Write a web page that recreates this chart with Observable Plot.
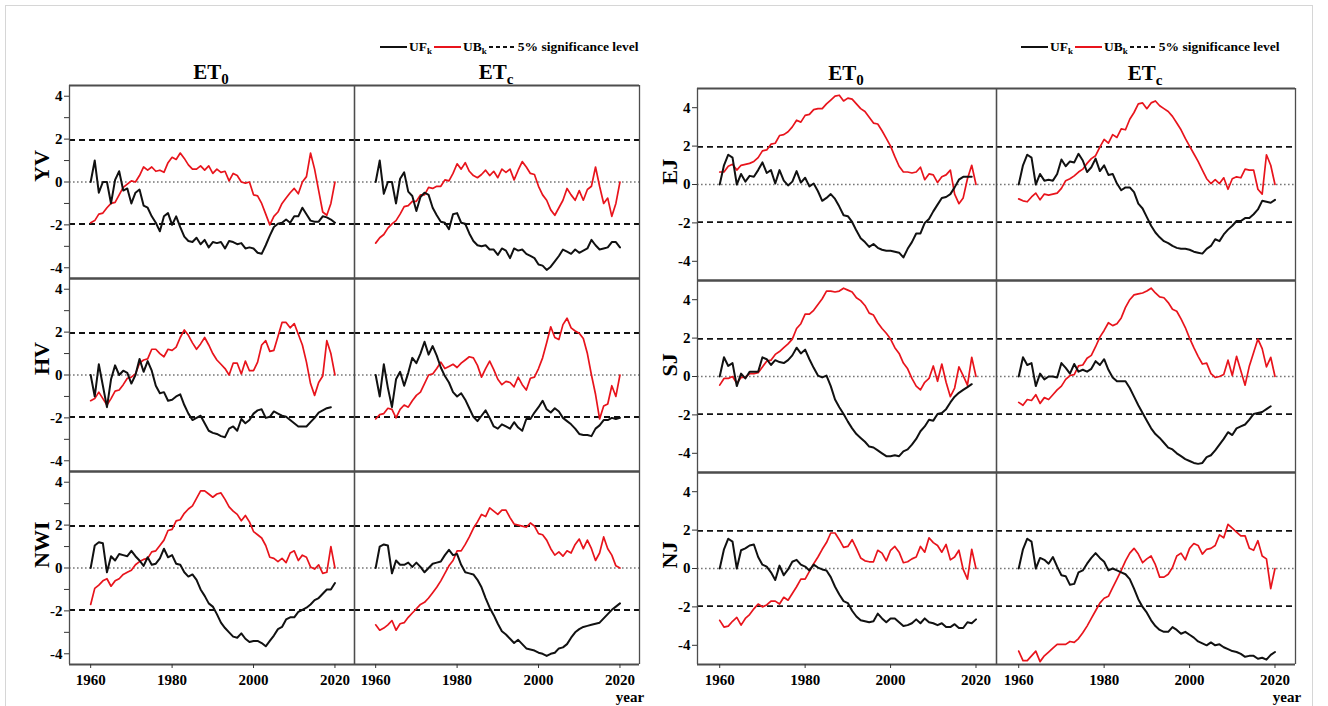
<!DOCTYPE html>
<html><head><meta charset="utf-8">
<script src="https://cdn.jsdelivr.net/npm/d3@7"></script>
<script src="https://cdn.jsdelivr.net/npm/@observablehq/plot@0.6"></script>
<style>
html,body{margin:0;padding:0;background:#fff;}
#root{position:relative;width:1328px;height:706px;overflow:hidden;font-family:"Liberation Serif","Times New Roman",serif;font-weight:bold;color:#000;}
.border{position:absolute;left:5px;top:5px;width:1306px;height:720px;border:1px solid #d6d6d6;}
.title{position:absolute;font-size:21px;line-height:1;transform:translateX(-50%);white-space:nowrap;}
.title sub{font-size:15px;vertical-align:-5px;line-height:0;}
.legend{position:absolute;display:flex;align-items:center;font-size:13.5px;line-height:1;white-space:nowrap;}
.legend sub{font-size:9px;vertical-align:-3px;line-height:0;}
.legend svg{display:block;}
.year{position:absolute;font-size:15px;line-height:1;transform:translateX(-50%);}
</style></head><body><div id="root"><div class="border"></div></div>
<script>
// ---------------- data ----------------
const years = d3.range(1960, 2021);
const columns = ["ET0", "ETc"];
const rowsLeft = ["YV", "HV", "NWI"];
const rowsRight = ["EJ", "SJ", "NJ"];
const seriesNames = ["UF", "UB"];
const sigLevel = 1.96;
const yTicksLeft = [-4, -3, -2, -1, 0, 1, 2, 3, 4];
const yTicksRight = [-4, -2, 0, 2, 4];
const xTicks = [1960, 1980, 2000, 2020];

const YV_ET0_UF = [0,1.0,-0.5,0.0,0.0,-1.0,0.1,0.5,-0.4,-0.3, -1.0,-0.5,-0.35,-1.1,-1.2,-1.6,-1.9,-2.3,-1.6,-1.45, -2.0,-1.6,-2.1,-2.55,-2.75,-2.8,-2.6,-2.9,-2.7,-3.05, -2.8,-2.85,-2.8,-3.1,-2.75,-2.8,-2.9,-2.85,-3.1,-3.05, -3.1,-3.3,-3.35,-2.95,-2.5,-2.1,-1.95,-1.9,-1.75,-1.9, -1.6,-1.6,-1.2,-1.5,-1.8,-1.85,-1.85,-1.6,-1.65,-1.75,-1.9];
const YV_ET0_UB = [-1.9,-1.8,-1.5,-1.45,-1.2,-1.0,-0.95,-0.6,-0.25,-0.1, 0.05,0.0,0.3,0.7,0.55,0.7,0.5,0.55,0.45,0.9, 1.15,1.05,1.35,1.1,0.8,0.6,0.6,0.75,0.55,0.75, 0.4,0.6,0.45,0.5,0.05,0.4,0.3,0.0,-0.05,0.0, -0.6,-0.65,-1.0,-1.5,-2.0,-1.6,-1.4,-1.0,-0.75,-0.5, -0.3,-0.55,0.0,0.25,1.35,0.6,-0.4,-1.4,-1.55,-1.0,0.0];
const YV_ETc_UF = [0,1.0,-0.55,0.0,0.0,-1.0,0.15,0.45,-0.45,-0.65, -1.35,-0.7,-0.5,-0.6,-1.2,-1.55,-1.85,-1.9,-2.2,-1.5, -1.45,-1.9,-1.95,-2.4,-2.75,-2.95,-3.0,-2.95,-3.15,-3.15, -3.4,-3.1,-3.2,-3.55,-3.1,-3.2,-3.15,-3.35,-3.45,-3.55, -3.85,-3.9,-4.1,-3.95,-3.7,-3.45,-3.15,-3.25,-3.35,-3.15, -3.3,-3.2,-3.1,-2.7,-2.95,-3.15,-3.1,-3.05,-2.8,-2.8,-3.05];
const YV_ETc_UB = [-2.85,-2.6,-2.45,-2.15,-1.95,-1.8,-1.5,-1.15,-1.1,-0.9, -0.9,-0.6,-0.6,-0.25,-0.3,-0.2,-0.2,0.1,0.05,0.4, 0.85,0.6,0.9,0.5,0.3,0.2,0.35,0.55,0.3,0.5, 0.2,0.6,0.45,0.6,0.1,0.55,0.95,0.7,0.4,0.35, -0.2,-0.6,-0.85,-1.3,-1.55,-1.2,-0.85,-0.3,-0.6,-0.85, -0.4,-0.85,-0.35,-0.2,0.7,-0.2,-1.0,-0.75,-1.6,-1.0,0.0];

const HV_ET0_UF = [0,-1.0,0.5,-0.5,-1.5,-0.2,0.45,0.0,0.2,0.1, -0.4,0.0,0.75,0.15,0.65,0.2,-0.5,-0.85,-0.8,-1.2, -1.15,-1.0,-0.9,-1.4,-1.8,-2.1,-2.0,-1.9,-2.25,-2.6, -2.7,-2.75,-2.85,-2.9,-2.5,-2.4,-2.6,-2.05,-2.25,-2.1, -1.8,-1.65,-1.6,-2.0,-1.95,-1.7,-1.8,-1.9,-1.95,-2.1, -2.25,-2.4,-2.4,-2.4,-2.2,-2.0,-1.75,-1.65,-1.55,-1.5];
const HV_ET0_UB = [-1.2,-1.1,-0.8,-1.1,-1.4,-1.1,-0.75,-0.7,-0.45,-0.15, -0.1,0.05,0.55,0.7,0.75,1.2,1.2,1.0,0.85,1.2, 1.15,1.3,1.75,2.1,1.85,1.5,1.2,1.45,1.75,1.4, 1.0,0.7,0.5,0.3,0.0,0.55,0.55,0.05,0.65,0.2, 0.2,0.6,1.4,1.6,1.1,1.15,1.8,2.45,2.45,2.2, 2.4,1.9,1.4,0.6,-0.4,-0.95,-0.35,-0.05,1.6,1.0,0.0];
const HV_ETc_UF = [0,-1.0,0.5,-0.6,-1.5,-0.2,0.15,-0.5,0.1,0.8, 0.55,1.0,1.55,0.95,1.35,0.9,0.35,-0.05,-0.35,-0.8, -1.0,-0.85,-1.15,-1.55,-1.95,-2.15,-1.9,-1.65,-2.0,-2.4, -2.5,-2.3,-2.4,-2.5,-2.2,-2.45,-2.6,-2.05,-2.05,-1.75, -1.5,-1.2,-1.6,-1.75,-1.55,-1.7,-2.0,-2.15,-2.3,-2.5, -2.75,-2.8,-2.8,-2.85,-2.5,-2.35,-2.1,-2.1,-2.0,-2.05,-2.0];
const HV_ETc_UB = [-2.05,-1.85,-1.8,-1.55,-1.6,-2.0,-1.6,-1.4,-1.5,-1.2, -0.95,-0.8,-0.4,0.0,0.05,0.3,0.6,0.3,0.4,0.5, 0.35,0.55,0.7,0.85,0.8,0.45,-0.1,0.3,0.65,0.25, -0.2,-0.45,-0.3,-0.35,-0.55,-0.1,-0.45,-0.7,-0.15,-0.1, 0.3,0.8,1.5,2.25,1.75,1.65,2.35,2.65,2.2,2.05, 1.95,1.7,1.0,0.0,-0.9,-2.05,-1.45,-1.35,-0.5,-1.0,0.0];

const NWI_ET0_UF = [0,1.05,1.2,1.15,-0.2,0.55,0.35,0.65,0.6,0.55, 0.8,0.55,0.35,0.1,0.5,0.15,0.2,0.45,0.9,0.5, 0.6,0.2,0.15,-0.2,-0.4,-0.3,-0.55,-1.0,-1.3,-1.65, -1.8,-2.15,-2.55,-2.8,-3.0,-3.2,-3.25,-3.05,-3.3,-3.45, -3.4,-3.4,-3.5,-3.65,-3.4,-3.15,-2.85,-2.75,-2.4,-2.3, -2.3,-2.05,-1.95,-1.85,-1.7,-1.5,-1.4,-1.2,-1.0,-1.0,-0.7];
const NWI_ET0_UB = [-1.7,-0.95,-0.8,-0.6,-0.5,-0.85,-0.6,-0.5,-0.3,-0.2, -0.1,0.15,0.3,0.4,0.45,0.75,0.8,1.05,1.3,1.75, 1.8,2.2,2.25,2.55,2.75,2.9,3.25,3.6,3.6,3.45, 3.3,3.45,3.5,3.2,2.85,2.65,2.5,2.2,2.45,2.15, 1.7,1.55,1.4,1.05,0.5,0.45,0.3,0.45,0.25,0.7, 0.8,0.35,0.6,0.5,0.05,-0.05,0.15,-0.25,-0.2,1.0,0.0];
const NWI_ETc_UF = [0,1.0,1.1,1.05,-0.25,0.35,0.15,0.15,0.25,0.05, 0.25,0.05,-0.2,0.0,0.2,0.25,0.3,0.6,0.85,0.6, 0.65,0.15,-0.2,-0.25,-0.3,-0.55,-0.9,-1.4,-1.85,-2.2, -2.6,-2.95,-3.1,-3.3,-3.5,-3.35,-3.55,-3.75,-3.8,-3.85, -3.95,-4.0,-4.1,-4.0,-3.95,-3.75,-3.7,-3.55,-3.25,-3.0, -2.85,-2.75,-2.7,-2.65,-2.6,-2.55,-2.35,-2.15,-1.95,-1.8,-1.65];
const NWI_ETc_UB = [-2.65,-2.9,-2.8,-2.65,-2.45,-2.9,-2.6,-2.55,-2.3,-2.1, -1.9,-1.7,-1.6,-1.4,-1.15,-0.9,-0.6,-0.25,0.1,0.35, 0.8,0.8,1.1,1.45,1.85,2.15,2.5,2.4,2.8,2.65, 2.5,2.7,2.7,2.35,2.05,2.0,1.95,1.9,2.1,1.95, 1.6,1.55,1.3,0.9,0.6,0.75,0.55,0.8,0.7,1.1, 1.35,0.9,1.3,0.9,0.35,0.7,1.45,0.9,0.6,0.1,0.0];

const EJ_ET0_UF = [0,1.0,1.55,1.4,0.0,0.55,0.15,0.45,0.4,0.75, 1.15,0.6,0.75,0.05,0.75,0.2,-0.05,0.15,0.7,0.1, 0.35,-0.1,0.05,-0.35,-0.85,-0.7,-0.5,-0.75,-1.15,-1.6, -1.65,-1.95,-2.4,-2.8,-3.0,-3.25,-3.1,-3.3,-3.4,-3.45, -3.45,-3.5,-3.55,-3.8,-3.35,-3.0,-2.55,-2.55,-2.0,-1.8, -1.4,-1.05,-0.7,-0.65,-0.5,-0.15,0.25,0.4,0.4,0.4];
const EJ_ET0_UB = [0.65,0.65,0.95,1.05,0.75,1.0,1.05,1.1,1.2,1.4, 1.75,1.8,2.1,2.15,2.55,2.6,2.75,3.0,3.35,3.25, 3.6,3.65,3.9,3.95,3.95,4.2,4.4,4.6,4.65,4.35, 4.5,4.45,4.2,3.95,3.8,3.5,3.2,3.15,2.8,2.4, 2.0,1.45,0.95,0.65,0.65,0.6,0.65,0.9,0.25,0.55, 0.5,0.1,0.4,0.5,0.75,-0.5,-1.0,-0.7,0.3,1.0,0.0];
const EJ_ETc_UF = [0,1.0,1.55,1.4,0.0,0.55,0.2,0.25,0.2,0.55, 1.3,0.95,1.2,1.15,1.6,1.25,0.65,0.9,1.35,0.7, 1.0,0.5,0.55,0.05,-0.3,-0.15,-0.15,-0.4,-1.0,-1.25, -1.7,-2.15,-2.5,-2.75,-2.95,-3.05,-3.2,-3.3,-3.35,-3.35, -3.4,-3.5,-3.55,-3.6,-3.35,-3.2,-2.85,-2.95,-2.6,-2.35, -2.15,-1.9,-1.9,-1.75,-1.75,-1.55,-1.3,-0.85,-0.9,-0.95,-0.8];
const EJ_ETc_UB = [-0.75,-0.85,-0.9,-0.65,-0.45,-0.8,-0.5,-0.55,-0.5,-0.45, -0.2,0.2,0.3,0.45,0.65,0.8,1.1,1.35,1.5,1.95, 2.35,2.15,2.6,2.45,2.9,2.85,3.4,3.75,4.2,4.25, 3.95,4.25,4.35,4.1,3.95,3.8,3.55,3.2,2.85,2.4, 2.0,1.6,1.2,0.75,0.3,0.05,0.25,0.05,0.35,-0.25, 0.3,0.4,0.35,0.8,0.75,0.75,-0.25,-0.5,1.55,1.0,0.0];

const SJ_ET0_UF = [0,1.0,0.55,0.7,-0.5,0.15,-0.1,0.25,0.25,0.25, 1.0,0.9,0.6,0.85,0.75,0.7,0.85,1.1,1.5,1.2, 1.4,0.9,0.45,0.05,-0.05,0.05,-0.5,-1.2,-1.6,-1.95, -2.35,-2.7,-3.0,-3.2,-3.4,-3.65,-3.7,-3.85,-4.0,-4.15, -4.15,-4.1,-4.15,-3.9,-3.8,-3.55,-3.25,-2.85,-2.6,-2.25, -2.3,-1.95,-1.9,-1.7,-1.35,-1.05,-0.85,-0.7,-0.55,-0.4];
const SJ_ET0_UB = [-0.45,-0.1,-0.1,0.0,-0.35,-0.05,-0.05,0.15,0.15,0.2, 0.5,0.8,0.85,1.15,1.3,1.5,1.7,1.95,2.5,2.75, 3.25,3.25,3.45,3.75,4.05,4.45,4.45,4.4,4.45,4.6, 4.5,4.4,4.1,3.95,3.7,3.3,3.2,2.8,2.5,2.25, 1.95,1.5,1.2,0.7,0.4,-0.1,-0.5,-0.7,-0.3,-0.1, 0.55,-0.25,0.65,-0.3,-1.05,-0.6,0.5,0.05,-0.45,1.0,0.0];
const SJ_ETc_UF = [0,1.0,0.6,0.7,-0.5,0.15,-0.15,0.0,0.0,-0.05, 0.7,0.45,0.15,0.65,0.25,0.35,0.25,0.4,0.8,0.6, 0.9,0.35,-0.05,-0.25,-0.25,-0.25,-0.6,-1.05,-1.5,-1.9, -2.3,-2.7,-3.0,-3.2,-3.45,-3.7,-3.8,-4.0,-4.15,-4.3, -4.4,-4.5,-4.55,-4.5,-4.2,-4.1,-3.85,-3.55,-3.25,-2.9, -3.05,-2.7,-2.6,-2.5,-2.25,-1.95,-1.9,-1.85,-1.7,-1.55];
const SJ_ETc_UB = [-1.35,-1.5,-1.2,-1.25,-0.95,-1.4,-1.1,-1.2,-0.95,-0.7, -0.5,-0.15,0.05,0.1,0.55,0.6,0.95,1.1,1.55,2.05, 2.4,2.8,2.65,2.75,3.05,3.6,4.0,4.25,4.3,4.35, 4.45,4.6,4.35,4.15,4.1,3.85,3.5,3.4,3.0,2.55, 2.0,1.5,1.05,0.65,0.7,0.15,-0.05,0.0,0.1,0.85, 0.05,1.05,0.3,-0.45,0.55,1.25,1.95,1.45,0.5,1.0,0.0];

const NJ_ET0_UF = [0,1.0,1.55,1.4,0.0,0.95,1.05,1.2,1.25,0.6, 0.2,0.1,-0.2,-0.6,0.15,-0.35,-0.05,0.35,0.45,0.2, 0.1,-0.1,0.2,0.05,-0.05,-0.1,-0.45,-0.95,-1.35,-1.7, -1.8,-2.2,-2.5,-2.7,-2.75,-2.8,-2.75,-2.35,-2.6,-2.8, -2.6,-2.6,-2.8,-3.0,-2.95,-2.85,-2.65,-2.85,-2.6,-2.8, -2.85,-2.95,-2.85,-3.05,-3.05,-2.9,-3.1,-3.1,-2.8,-2.85,-2.65];
const NJ_ET0_UB = [-2.7,-3.05,-3.0,-2.75,-2.55,-2.95,-2.6,-2.4,-2.1,-1.85, -2.0,-1.9,-1.7,-1.7,-1.85,-1.5,-1.65,-1.3,-0.95,-0.55, -0.55,-0.15,0.25,0.6,1.0,1.35,1.85,1.85,1.5,1.1, 1.15,1.5,1.05,0.55,0.4,0.35,0.35,0.95,0.8,0.4, 0.95,1.15,0.85,0.3,0.35,0.5,0.6,1.15,0.85,1.6, 1.35,1.2,0.85,1.25,0.45,0.6,0.95,-0.05,-0.55,1.0,0.0];
const NJ_ETc_UF = [0,1.0,1.55,1.4,0.0,0.55,0.45,0.25,0.6,0.1, -0.35,-0.4,-0.85,-0.8,-0.2,-0.1,0.25,0.55,0.8,0.55, 0.35,-0.1,0.0,-0.1,-0.2,-0.3,-0.55,-1.05,-1.6,-2.0, -2.3,-2.7,-3.0,-3.2,-3.3,-3.3,-3.05,-3.2,-3.4,-3.3, -3.45,-3.6,-3.8,-3.9,-4.0,-3.85,-4.0,-3.95,-4.1,-4.2, -4.3,-4.35,-4.45,-4.6,-4.55,-4.55,-4.7,-4.65,-4.75,-4.5,-4.35];
const NJ_ETc_UB = [-4.3,-4.8,-4.8,-4.55,-4.3,-4.85,-4.55,-4.35,-4.15,-3.95, -3.95,-3.95,-3.8,-3.85,-3.65,-3.35,-3.0,-2.6,-2.2,-1.8, -1.55,-1.45,-1.0,-0.55,-0.1,0.4,0.8,1.05,0.75,0.3, 0.5,0.65,0.2,-0.45,-0.45,-0.3,0.05,0.65,0.8,0.45, 1.05,1.3,1.2,0.75,1.0,1.05,1.2,1.75,1.6,2.3, 2.1,1.9,1.7,1.7,1.05,0.95,1.45,0.65,0.5,-1.05,0.0];

const panelsLeft = [
  ["YV","ET0",YV_ET0_UF,YV_ET0_UB],["YV","ETc",YV_ETc_UF,YV_ETc_UB],
  ["HV","ET0",HV_ET0_UF,HV_ET0_UB],["HV","ETc",HV_ETc_UF,HV_ETc_UB],
  ["NWI","ET0",NWI_ET0_UF,NWI_ET0_UB],["NWI","ETc",NWI_ETc_UF,NWI_ETc_UB]
];
const panelsRight = [
  ["EJ","ET0",EJ_ET0_UF,EJ_ET0_UB],["EJ","ETc",EJ_ETc_UF,EJ_ETc_UB],
  ["SJ","ET0",SJ_ET0_UF,SJ_ET0_UB],["SJ","ETc",SJ_ETc_UF,SJ_ETc_UB],
  ["NJ","ET0",NJ_ET0_UF,NJ_ET0_UB],["NJ","ETc",NJ_ETc_UF,NJ_ETc_UB]
];

// ---------------- build ----------------
function toRecords(panels) {
  const out = [];
  for (const [row, col, uf, ub] of panels) {
    uf.forEach((v, i) => out.push({row, col, series: "UF", year: years[i], value: v}));
    ub.forEach((v, i) => out.push({row, col, series: "UB", year: years[i], value: v}));
  }
  return out;
}

const XDOM = [1954.8, 2024.8];
const FONT = "'Liberation Serif','Times New Roman',serif";

function block({rows, panels, ydomain, yticks, marginLeft, marginRight, marginTop, marginBottom, width}) {
  const data = toRecords(panels);
  const labels = rows.map(r => ({row: r, col: columns[0]}));
  return Plot.plot({
    width, height: 706,
    marginLeft, marginRight, marginTop, marginBottom,
    style: {fontFamily: FONT, fontWeight: "bold", fontSize: "15px", color: "#000", background: "transparent", overflow: "visible"},
    x: {domain: XDOM, axis: null, label: null},
    y: {domain: ydomain, axis: null, label: null},
    fx: {domain: columns, padding: 0, axis: null, label: null},
    fy: {domain: rows, padding: 0, axis: null, label: null},
    marks: [
      Plot.ruleY([sigLevel, -sigLevel], {stroke: "#111", strokeWidth: 1.9, strokeDasharray: "6,4"}),
      Plot.ruleY([0], {stroke: "#777", strokeWidth: 1.3, strokeDasharray: "1.6,2.4"}),
      Plot.line(data.filter(d => d.series === "UB"), {x: "year", y: "value", fx: "col", fy: "row", stroke: "#e8141c", strokeWidth: 1.7}),
      Plot.line(data.filter(d => d.series === "UF"), {x: "year", y: "value", fx: "col", fy: "row", stroke: "#111", strokeWidth: 2}),
      Plot.ruleY(ydomain, {stroke: "#4d4d4d", strokeWidth: 2}),
      Plot.ruleX(XDOM, {stroke: "#4d4d4d", strokeWidth: 1.3}),
      Plot.axisY({ticks: yticks, anchor: "left", label: null, tickSize: 5, tickPadding: 2, stroke: "#333",
        tickFormat: d => (d % 2 === 0 ? String(d) : ""), fontSize: 15, fontWeight: "bold", fill: "#000"}),
      Plot.axisX({ticks: xTicks, anchor: "bottom", label: null, tickSize: 4, tickPadding: 6, stroke: "#333",
        tickFormat: d => String(d), fontSize: 15, fontWeight: "bold", fill: "#000"}),
      Plot.text(labels, {fx: "col", fy: "row", text: "row", frameAnchor: "left", dx: -28, rotate: -90,
        fontSize: 22, fontWeight: "bold", fill: "#000"})
    ]
  });
}

const root = document.getElementById("root");

function place(node, left, top) {
  node.style.position = "absolute";
  node.style.left = left + "px";
  node.style.top = top + "px";
  root.appendChild(node);
}

const left = block({rows: rowsLeft, panels: panelsLeft, ydomain: [-4.5, 4.5], yticks: yTicksLeft,
  marginLeft: 68, marginRight: 25, marginTop: 84, marginBottom: 41, width: 664});
place(left, 0, 0);
const right = block({rows: rowsRight, panels: panelsRight, ydomain: [-5, 5], yticks: yTicksRight,
  marginLeft: 33, marginRight: 33, marginTop: 87, marginBottom: 41, width: 664});
place(right, 664, 0);

// titles
function title(col, x, y) {
  const d = document.createElement("div");
  d.className = "title";
  d.innerHTML = "ET<sub>" + col.slice(2) + "</sub>";
  d.style.left = x + "px"; d.style.top = y + "px";
  root.appendChild(d);
}
title(columns[0], 211, 62); title(columns[1], 496, 62);
title(columns[0], 846, 63); title(columns[1], 1145, 63);

// legends
function legend(x, y) {
  const d = document.createElement("div");
  d.className = "legend";
  d.style.left = x + "px"; d.style.top = y + "px";
  const sw = (stroke, dash) => `<svg width="27" height="10"><line x1="0" y1="5" x2="27" y2="5" stroke="${stroke}" stroke-width="2"${dash ? ' stroke-dasharray="4,3"' : ""}/></svg>`;
  d.innerHTML = sw("#111") + `<span style="margin:0 2px">${seriesNames[0]}<sub>k</sub></span>` +
    sw("#e8141c") + `<span style="margin:0 2px">${seriesNames[1]}<sub>k</sub></span>` +
    sw("#111", true) + `<span style="margin-left:2px">5% significance level</span>`;
  root.appendChild(d);
}
legend(380, 40); legend(1021, 40);

// x-axis label "year"
function yearLabel(x, y) {
  const d = document.createElement("div");
  d.className = "year"; d.textContent = "year";
  d.style.left = x + "px"; d.style.top = y + "px";
  root.appendChild(d);
}
yearLabel(630, 690); yearLabel(1287, 690);
</script>
</body></html>
